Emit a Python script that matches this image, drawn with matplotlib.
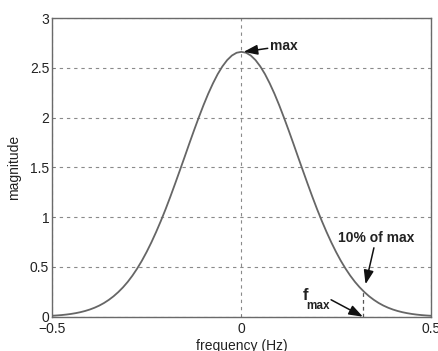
import matplotlib
matplotlib.use("Agg")
import matplotlib.pyplot as plt

# magnitude spectrum sampled every 0.0125 Hz
freq = [-0.5, -0.4875, -0.475, -0.4625, -0.45, -0.4375, -0.425, -0.4125,
        -0.4, -0.3875, -0.375, -0.3625, -0.35, -0.3375, -0.325, -0.3125,
        -0.3, -0.2875, -0.275, -0.2625, -0.25, -0.2375, -0.225, -0.2125,
        -0.2, -0.1875, -0.175, -0.1625, -0.15, -0.1375, -0.125, -0.1125,
        -0.1, -0.0875, -0.075, -0.0625, -0.05, -0.0375, -0.025, -0.0125,
        0.0,
        0.0125, 0.025, 0.0375, 0.05, 0.0625, 0.075, 0.0875, 0.1,
        0.1125, 0.125, 0.1375, 0.15, 0.1625, 0.175, 0.1875, 0.2,
        0.2125, 0.225, 0.2375, 0.25, 0.2625, 0.275, 0.2875, 0.3,
        0.3125, 0.325, 0.3375, 0.35, 0.3625, 0.375, 0.3875, 0.4,
        0.4125, 0.425, 0.4375, 0.45, 0.4625, 0.475, 0.4875, 0.5]
magnitude = [0.0095, 0.0126, 0.0165, 0.0215, 0.0278, 0.0357, 0.0455, 0.0576,
             0.0724, 0.0904, 0.112, 0.138, 0.169, 0.205, 0.247, 0.295,
             0.350, 0.413, 0.484, 0.563, 0.651, 0.747, 0.851, 0.962,
             1.080, 1.205, 1.335, 1.468, 1.602, 1.738, 1.871, 2.000,
             2.124, 2.239, 2.343, 2.436, 2.514, 2.577, 2.623, 2.651,
             2.66,
             2.651, 2.623, 2.577, 2.514, 2.436, 2.343, 2.239, 2.124,
             2.000, 1.871, 1.738, 1.602, 1.468, 1.335, 1.205, 1.080,
             0.962, 0.851, 0.747, 0.651, 0.563, 0.484, 0.413, 0.350,
             0.295, 0.247, 0.205, 0.169, 0.138, 0.112, 0.0904, 0.0724,
             0.0576, 0.0455, 0.0357, 0.0278, 0.0215, 0.0165, 0.0126, 0.0095]

peak_freq = 0.0
peak_mag = 2.66
f_max = 0.321
tenth_mag = 0.1 * peak_mag

xticks = [-0.5, 0, 0.5]
xtick_labels = ['\u22120.5', '0', '0.5']
yticks = [0, 0.5, 1, 1.5, 2, 2.5, 3]
ytick_labels = ['0', '0.5', '1', '1.5', '2', '2.5', '3']


def main():
    plt.rcParams['font.family'] = ['Liberation Sans', 'DejaVu Sans']
    plt.rcParams['font.size'] = 10

    fig = plt.figure(figsize=(4.38, 3.51), dpi=100)
    ax = fig.add_axes([0.1187, 0.0977, 0.9833 - 0.1187, 0.9487 - 0.0977])

    ax.plot(freq, magnitude, color='#666666', lw=1.3, zorder=3)
    ax.plot([f_max, f_max], [0, tenth_mag], color='#555555', lw=0.9,
            linestyle=(0, (3, 2.5)), zorder=3)

    ax.set_xlim(-0.5, 0.5)
    ax.set_ylim(0, 3)
    ax.set_xticks(xticks)
    ax.set_xticklabels(xtick_labels)
    ax.set_yticks(yticks)
    ax.set_yticklabels(ytick_labels)
    ax.tick_params(direction='in', length=2.5, width=0.6, color='#777777',
                   labelsize=10, labelcolor='#222222')
    ax.tick_params(axis='x', pad=4)
    ax.tick_params(axis='y', pad=2)

    ax.grid(True, color='#8a8a8a', lw=0.8, linestyle=(0, (3, 3.5)))
    ax.set_axisbelow(True)
    for side in ax.spines.values():
        side.set_color('#6a6a6a')
        side.set_linewidth(1.0)

    ax.set_xlabel('frequency (Hz)', color='#222222', labelpad=2)
    ax.set_ylabel('magnitude', color='#222222', labelpad=6)

    arrow = dict(arrowstyle='-|>,head_length=0.7,head_width=0.25',
                 color='#111111', lw=1.1, mutation_scale=12,
                 shrinkA=0, shrinkB=0)
    ax.annotate('max', xy=(peak_freq + 0.006, peak_mag), xytext=(0.077, 2.72),
                ha='left', va='center', fontweight='bold', color='#222222',
                arrowprops=arrow)
    ax.annotate('10% of max', xy=(f_max + 0.007, tenth_mag + 0.06),
                xytext=(0.356, 0.79), ha='center', va='center',
                fontweight='bold', color='#222222', arrowprops=arrow)
    ax.annotate('', xy=(f_max, 0.0), xytext=(0.237, 0.17),
                arrowprops=arrow)
    ax.text(0.162, 0.215, 'f', ha='left', va='center', fontweight='bold',
            fontsize=12, color='#222222')
    ax.text(0.172, 0.105, 'max', ha='left', va='center', fontweight='bold',
            fontsize=8.5, color='#222222')

    plt.savefig('out.png', dpi=100)


if __name__ == "__main__":
    main()
